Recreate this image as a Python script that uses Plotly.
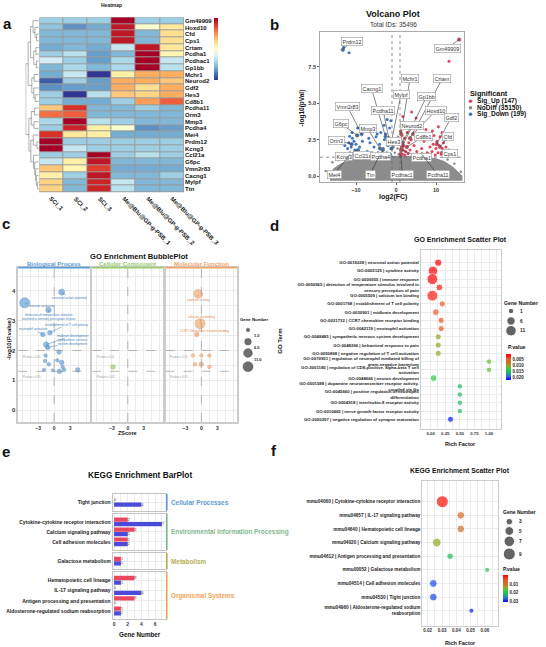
import plotly.graph_objects as go
import math

W, H = 546, 647
FONT = "Liberation Sans, Arial, Helvetica, sans-serif"

# ======================= DATA =======================
# ---- a. heatmap ----
hm_genes = ["Gm49909", "Hoxd10", "Cfd", "Cps1", "Crtam", "Pcdha1", "Pcdhac1", "Gp1bb",
            "Mchr1", "Neurod2", "Gdf2", "Hes3", "Cd8b1", "Pcdha11", "Orm3", "Mmp3",
            "Pcdha4", "Mei4", "Prdm12", "Kcng3", "Ccl21a", "G6pc", "Vmn2r83", "Cacng1",
            "Mylpf", "Ttn"]
hm_samples = ["SCI_1", "SCI_2", "SCI_3", "Me@Blu@GP-g-PSB_1", "Me@Blu@GP-g-PSB_2",
              "Me@Blu@GP-g-PSB_3"]
hm_values = [
    [-0.9, -0.9, -0.9, 2.0, -0.9, -0.9],
    [-1.0, -1.4, -1.2, 1.8, -0.1, 0.3],
    [-1.1, -1.1, -1.1, 1.8, -1.1, 0.4],
    [-1.1, -1.1, -1.1, 1.8, -1.1, 0.4],
    [-1.2, -1.1, -1.2, -0.6, 1.8, 0.3],
    [-0.9, -0.7, -1.3, -1.1, 2.0, 0.1],
    [-0.5, -0.9, -1.3, -0.8, 2.0, -0.6],
    [-1.1, -0.8, -1.1, -0.8, 2.0, -0.7],
    [-1.2, -0.6, -2.0, 0.2, 0.8, 0.8],
    [-1.75, -0.9, -1.3, 0.8, 0.8, 0.6],
    [-1.4, -1.3, -1.3, 0.8, 0.4, 0.8],
    [-0.9, -2.0, -0.7, 0.6, 0.5, 0.8],
    [-0.9, -1.2, -1.2, -0.9, 0.9, 1.3],
    [0.6, 1.6, -1.1, -1.1, -0.9, -1.1],
    [1.2, 1.3, -1.1, -1.1, -1.1, -1.1],
    [-0.8, 2.0, -0.7, -0.9, -1.1, -1.1],
    [-0.9, 1.7, 0.2, -0.1, -1.4, -1.3],
    [1.6, 0.3, 0.2, -1.2, -1.2, -1.2],
    [2.0, -0.9, -0.9, -0.9, -0.9, -0.9],
    [2.0, -0.6, -0.9, -0.9, -0.9, -0.9],
    [-0.9, -0.9, 2.0, -0.9, -0.7, -0.9],
    [-0.6, 0.2, 1.8, -1.1, -1.1, -1.1],
    [0.6, 0.1, 1.5, -1.2, -1.2, -1.2],
    [0.2, -0.9, 1.8, -1.1, -1.1, -0.9],
    [0.5, -1.1, 1.7, -0.6, -1.1, -1.1],
    [0.5, -1.1, 1.7, -0.7, -1.1, -1.1],
]
# row dendrogram: (left, right, merge height); leaves are row indices
hm_tree = (
    (((0, (1, (2, 3, 0.9), 1.6), 2.4), ((4, 5, 1.2), (6, 7, 1.0), 2.1), 3.4),
     ((8, 9, 1.9), (10, (11, 12, 1.5), 2.1), 2.9), 4.4),
    (((13, 14, 1.8), (15, 16, 2.0), 3.1),
     ((17, (18, 19, 0.8), 2.3), (20, (21, (22, (23, (24, 25, 0.6), 1.0), 1.3), 1.7), 2.2), 3.3), 4.1),
    5.4)

# ---- b. volcano ----
volc_groups = ["Sig_Up", "NoDiff", "Sig_Down"]
volc_group_counts = [147, 35150, 199]
volc_fc_cut = 1.0
volc_p_cut = 0.05
volc_up_fc = [1.1, 1.2, 1.3, 1.4, 1.2, 1.5, 1.1, 1.6, 1.8, 2.0, 2.2, 2.4, 2.1, 2.7, 3.0, 3.2, 2.8, 3.5,
              3.8, 4.2, 4.5, 1.3, 2.3, 3.9, 1.7, 5.2, 5.6, 6.0, 6.4, 7.0, 7.5, 5.0, 7.8, 8.2, 8.5, 8.8,
              9.0, 9.3, 9.5, 9.8, 10.0, 10.2, 10.5, 10.8, 11.0, 11.3, 11.6, 11.9, 12.2, 12.5, 12.8,
              9.1, 10.6, 11.5, 13.2, 13.25]
volc_up_lp = [1.4, 1.6, 1.9, 2.2, 2.5, 2.8, 3.1, 1.5, 1.8, 2.1, 1.45, 1.7, 2.6, 2.0, 1.55, 2.3, 3.0, 1.8,
              2.5, 1.5, 2.1, 3.6, 3.4, 4.4, 4.1, 1.7, 2.6, 3.3, 1.9, 2.4, 3.2, 4.0, 1.6, 1.5, 2.0, 2.5,
              1.7, 2.2, 2.8, 1.45, 1.9, 2.4, 1.6, 2.1, 2.7, 1.5, 1.9, 2.3, 1.6, 2.0, 1.45,
              3.1, 3.4, 3.0, 1.8, 7.9]
volc_down_fc = [-12.4, -12.1, -11.8, -11.5, -11.2, -10.9, -10.6, -10.3, -10.0, -9.7, -9.4, -9.1, -11.0,
                -9.6, -12.8, -8.7, -8.4, -10.5, -11.6, -9.9, -7.2, -6.5, -6.0, -5.5, -5.0, -4.5, -4.1,
                -3.8, -3.5, -3.2, -2.9, -2.6, -2.3, -2.0, -1.8, -1.6, -1.4, -1.2, -1.1, -4.7, -6.8,
                -3.0, -2.2, -5.8, -1.3, -13.1, -11.75]
volc_down_lp = [1.5, 1.9, 2.3, 1.6, 2.0, 2.6, 1.45, 1.8, 2.2, 2.8, 1.6, 2.0, 3.0, 3.3, 2.1, 1.5, 2.4,
                2.4, 2.75, 1.6, 1.7, 2.3, 1.5, 2.0, 2.7, 1.6, 2.2, 3.0, 1.45, 1.9, 2.5, 2.9, 1.6, 2.1,
                2.6, 3.3, 1.5, 1.9, 2.3, 2.9, 2.6, 3.5, 3.9, 3.2, 3.8, 8.85, 8.47]
# outline of the dense NoDiff cloud and its stray points
volc_cloud_fc = [-16.5, -15.5, -14, -12, -10, -8, -6, -4, -2, 0, 2, 4, 6, 8, 10, 12, 14, 15.5, 16.3,
                 16.3, -16.5]
volc_cloud_lp = [0.0, 0.45, 0.75, 1.0, 1.15, 1.22, 1.27, 1.3, 1.32, 1.35, 1.32, 1.3, 1.27, 1.22, 1.15,
                 0.95, 0.6, 0.25, 0.0, -0.22, -0.22]
volc_nodiff_fc = [-17.6, -15.9, -14.4, -13.2, 12.9, 14.6, 16.2, -0.3, 0.4, 0.2, -0.6, 0.7, 0.5, -0.4]
volc_nodiff_lp = [0.35, 0.95, 1.1, 1.2, 1.15, 0.85, 0.3, 1.6, 1.9, 2.3, 2.0, 1.5, 2.7, 2.4]
volc_lab_gene = ["Prdm12", "Gm49909", "Mchr1", "Crtam", "Cacng1", "Mylpf", "Gp1bb", "Vmn2r83",
                 "Pcdha11", "Hoxd10", "Neurod2", "Gdf2", "G6pc", "Mmp3", "Cd8b1", "Cfd", "Orm3",
                 "Hes3", "Kcng3", "Ccl21a", "Pcdha4", "Pcdha1", "Cps1", "Mei4", "Ttn", "Pcdhac1",
                 "Pcdha11"]
volc_lab_fc = [-13.3, 15.8, 1.3, 3.5, -2.6, -1.2, 1.5, -8.6, -1.8, 4.3, 1.6, 10.2, -9.7, -4.0, 2.7,
               11.0, -11.1, -1.1, -9.5, -7.0, -3.3, 1.3, 11.5, -11.5, -4.2, 1.2, 6.5]
volc_lab_lp = [8.68, 9.38, 2.9, 2.6, 2.7, 2.3, 2.0, 2.9, 2.6, 2.9, 2.3, 2.2, 2.8, 1.9, 2.0, 2.0, 2.2,
               1.9, 1.8, 1.6, 1.8, 1.8, 1.6, 1.5, 1.4, 1.5, 1.5]
volc_lab_text_fc = [-11.1, 12.75, 3.5, 11.6, -6.1, 1.25, 7.7, -12.1, -3.2, 9.9, 3.9, 13.75, -13.75,
                    -7.1, 6.8, 13.1, -14.8, -0.4, -12.9, -8.2, -4.0, 6.25, 13.5, -15.5, -6.5, 1.6, 10.4]
volc_lab_text_lp = [9.25, 8.8, 6.7, 6.7, 6.0, 5.6, 5.5, 4.75, 4.5, 4.5, 3.5, 4.0, 3.6, 3.27, 2.7, 2.75,
                    2.47, 2.4, 1.37, 1.45, 1.35, 1.3, 1.55, 0.1, 0.1, 0.1, 0.1]

# ---- c. GO bubble ----
go_c_categories = ["Biological Process", "Cellular Component", "Molecular Function"]
go_c_plines = [0.01, 0.05]
go_bp_z = [1.4, -5.5, -1.05, -0.8, -2.1, -1.5, -1.2, 0.9, -1.6, -1.7, -1.0, 0.6, 1.4, 1.6, -1.9, -0.2,
           1.0, 1.9, 4.4]
go_bp_lp = [3.96, 3.6, 3.36, 2.6, 2.54, 2.2, 2.1, 1.95, 1.83, 1.65, 1.54, 1.67, 1.6, 1.45, 1.35, 1.33,
            1.3, 1.35, 1.35]
go_bp_n = [4, 12, 3, 2, 2, 3, 2, 2, 1, 1, 1, 1, 2, 1, 1, 1, 2, 1, 2]
go_bp_labels = ["neuronal action potential", "immune response",
                "detection of temperature stimulus<br>involved in sensory perception of pain",
                "establishment of T cell polarity", "neutrophil activation", "midbrain development",
                "sympathetic nervous<br>system development"]
go_bp_lab_z = [2.8, -2.3, -0.9, 2.3, -3.9, 3.35, 3.6]
go_bp_lab_lp = [3.77, 3.5, 3.14, 2.87, 2.72, 2.5, 2.28]
go_cc_z = [-2.8]
go_cc_lp = [1.45]
go_cc_n = [2]
go_mf_z = [-0.6, -0.25, -0.9, -1.6, 0.0, 1.5, -1.2, 0.0, 1.5]
go_mf_lp = [3.9, 2.9, 2.54, 1.83, 1.83, 1.83, 1.54, 1.54, 1.45]
go_mf_n = [9, 12, 2, 1, 1, 1, 1, 2, 1]
go_mf_labels = ["cytokine activity", "calcium ion binding", "CCR7 chemokine receptor binding"]
go_mf_lab_z = [-0.5, 0.0, 0.68]
go_mf_lab_lp = [3.7, 3.13, 2.66]
go_c_legend_n = [1, 5, 9, 12]
go_c_legend_text = ["1.0", "6.0", "11.0"]

# ---- d. GO scatter ----
go_d_terms = [
    "GO:0019228 | neuronal action potential",
    "GO:0005125 | cytokine activity",
    "GO:0006955 | immune response",
    "GO:0050965 | detection of temperature stimulus involved in<br>sensory perception of pain",
    "GO:0005509 | calcium ion binding",
    "GO:0001768 | establishment of T cell polarity",
    "GO:0030901 | midbrain development",
    "GO:0031732 | CCR7 chemokine receptor binding",
    "GO:0042119 | neutrophil activation",
    "GO:0048485 | sympathetic nervous system development",
    "GO:0048266 | behavioral response to pain",
    "GO:0050868 | negative regulation of T cell activation",
    "GO:0070951 | regulation of neutrophil mediated killing of<br>gram-negative bacterium",
    "GO:2001185 | regulation of CD8-positive, alpha-beta T cell<br>activation",
    "GO:0048666 | neuron development",
    "GO:0001588 | dopamine neurotransmitter receptor activity,<br>coupled via Gs",
    "GO:0045660 | positive regulation of neutrophil<br>differentiation",
    "GO:0004918 | interleukin-8 receptor activity",
    "GO:0010465 | nerve growth factor receptor activity",
    "GO:2000297 | negative regulation of synapse maturation",
]
go_d_rich = [0.13, 0.04, 0.03, 0.15, 0.03, 0.2, 0.09, 0.18, 0.18, 0.13, 0.13, 0.13, 1.0, 1.0, 0.05,
             0.5, 0.5, 0.5, 0.5, 0.34]
go_d_count = [4, 9, 12, 3, 12, 2, 3, 2, 2, 2, 2, 2, 1, 1, 3, 1, 1, 1, 1, 2]
go_d_p = [0.0006, 0.0007, 0.0008, 0.0022, 0.002, 0.0045, 0.005, 0.0045, 0.0045, 0.0105, 0.0105, 0.0105,
          0.012, 0.012, 0.0135, 0.0155, 0.0155, 0.0155, 0.0155, 0.0215]
go_d_legend_n = [1, 6, 11]
go_d_p_ticks = [0.005, 0.010, 0.015, 0.020]

# ---- e. KEGG bar ----
kegg_classes = ["Cellular Processes", "Environmental Information Processing", "Metabolism",
                "Organismal Systems"]
kegg_class_terms = [
    ["Tight junction"],
    ["Cytokine-cytokine receptor interaction", "Calcium signaling pathway", "Cell adhesion molecules"],
    ["Galactose metabolism"],
    ["Hematopoietic cell lineage", "IL-17 signaling pathway", "Antigen processing and presentation",
     "Aldosterone-regulated sodium reabsorption"],
]
kegg_up = [[0], [2, 3, 2], [1], [3, 0, 3, 1]]
kegg_down = [[4], [7, 2, 2], [1], [1, 4, 0, 1]]

# ---- f. KEGG scatter ----
kegg_f_terms = [
    "mmu04060 | Cytokine-cytokine receptor interaction",
    "mmu04657 | IL-17 signaling pathway",
    "mmu04640 | Hematopoietic cell lineage",
    "mmu04020 | Calcium signaling pathway",
    "mmu04612 | Antigen processing and presentation",
    "mmu00052 | Galactose metabolism",
    "mmu04514 | Cell adhesion molecules",
    "mmu04530 | Tight junction",
    "mmu04960 | Aldosterone-regulated sodium<br>reabsorption",
]
kegg_f_rich = [0.0302, 0.0431, 0.0431, 0.0263, 0.0356, 0.0615, 0.0239, 0.0239, 0.0505]
kegg_f_count = [9, 4, 4, 5, 3, 2, 4, 4, 2]
kegg_f_p = [0.001, 0.0085, 0.0085, 0.014, 0.021, 0.021, 0.0275, 0.0275, 0.029]
kegg_f_legend_n = [3, 5, 7, 9]
kegg_f_p_ticks = [0.01, 0.02, 0.03]

# ======================= STYLE =======================
HM_SCALE = ['#313695', '#4575b4', '#74add1', '#abd9e9', '#e0f3f8', '#ffffbf', '#fee090', '#fdae61',
            '#f46d43', '#d73027', '#a50026']
HM_SCALE = [[i / 10, c] for i, c in enumerate(HM_SCALE)]
P_SCALE = [[0, '#FF0000'], [0.1, '#F52A14'], [0.2, '#E2602A'], [0.35, '#C0781E'], [0.47, '#8AAE2A'],
           [0.55, '#4CC33A'], [0.62, '#22CC44'], [0.72, '#28B070'], [0.86, '#2F6FD6'], [1, '#0000FF']]
# colour bar shows small p on top: plot -p with the scale flipped
P_SCALE_NEG = [[1 - s, c] for s, c in reversed(P_SCALE)]
C_UP, C_DOWN, C_NO = '#E2435A', '#3D76C0', '#8c8c8c'
CAT_COL = ['#5B9BD5', '#9BC96E', '#F4A46A']
CAT_LINE = ['#3F7EBF', '#79AE4A', '#E0894A']
KEGG_COL = ['#5B9BD5', '#7FB88E', '#B5AE55', '#F2A45C']
BAR_UP, BAR_DOWN = '#E8475F', '#4B4BDB'
GRID = '#ebebeb'


def size_c(n): return math.sqrt(4 + 8 * n)
def size_d(n): return math.sqrt(22.25 + 8 * n)
def size_f(n): return math.sqrt(17 * n - 8)


def PX(x): return x / W
def PY(y): return 1 - y / H
def XD(a, b): return [a / W, b / W]
def YD(top, bottom): return [1 - bottom / H, 1 - top / H]


def tf(size, color='#333', bold=True):
    return dict(family=FONT, size=size, color=color, weight='bold' if bold else 'normal')


def grid_ticks(start, stop, step, label_every, fmt):
    """tick positions every `step` (grid lines); labels only on every `label_every`-th one"""
    vals, txt = [], []
    n = int(round((stop - start) / step))
    for j in range(n + 1):
        v = start + j * step
        vals.append(v)
        txt.append(fmt(v) if j % label_every == 0 else '')
    return vals, txt


traces, shapes, ann = [], [], []
axes = {}


def set_axes(i, xdom, ydom, xkw, ykw):
    s = '' if i == 1 else str(i)
    axes['xaxis' + s] = dict(domain=xdom, anchor='y' + s, fixedrange=True, **xkw)
    axes['yaxis' + s] = dict(domain=ydom, anchor='x' + s, fixedrange=True, **ykw)


def A(x, y, text, size, color='#222', bold=False, xanchor='center', yanchor='middle', angle=0, **kw):
    d = dict(x=PX(x), y=PY(y), xref='paper', yref='paper', text=text, showarrow=False,
             font=tf(size, color, bold), xanchor=xanchor, yanchor=yanchor, textangle=angle,
             borderpad=0)
    d.update(kw)
    ann.append(d)


def framed(line='#c8c8c8', lw=1.0):
    return dict(showline=True, mirror=True, linecolor=line, linewidth=lw, zeroline=False)


def minus(v, dec=0):
    s = ('%.' + str(dec) + 'f') % v
    return s.replace('-', '\u2212')


# panel letters
for lx, ly, lt in [(7, 24, 'a'), (274, 25, 'b'), (6, 223, 'c'), (274, 225, 'd'), (6, 452, 'e'),
                   (274, 450, 'f')]:
    A(lx, ly, lt, 15, '#111', True)

# ======================= a. HEATMAP =======================
traces.append(go.Heatmap(
    z=hm_values, x=hm_samples, y=hm_genes, xaxis='x', yaxis='y', colorscale=HM_SCALE, zmin=-2,
    zmax=2, xgap=1, ygap=1, hoverinfo='skip',
    colorbar=dict(x=PX(214), xanchor='left', y=PY(18), yanchor='top', lenmode='pixels', len=62,
                  thicknessmode='pixels', thickness=3.5, outlinewidth=0, showticklabels=False,
                  ticks='', xpad=0, ypad=0)))
set_axes(1, XD(39.3, 184), YD(17.3, 192.3),
         dict(range=[-0.5, len(hm_samples) - 0.5], showticklabels=False, showgrid=False,
              zeroline=False, ticks=''),
         dict(side='right', range=[len(hm_genes) - 0.5, -0.5], tickmode='array', tickvals=hm_genes,
              ticktext=hm_genes, showgrid=False, zeroline=False, ticks='', tickfont=tf(6, '#111')))
shapes.append(dict(type='rect', xref='paper', yref='paper', x0=PX(39.3), x1=PX(184), y0=PY(192.3),
                   y1=PY(17.3), fillcolor='#9a9a9a', line=dict(width=0), layer='below'))

dx, dy = [], []


def walk(node):
    if isinstance(node, int):
        return float(node), 0.0
    left, right, h = node
    y1, h1 = walk(left)
    y2, h2 = walk(right)
    dx.extend([h1, h, None, h2, h, None, h, h, None])
    dy.extend([y1, y1, None, y2, y2, None, y1, y2, None])
    return (y1 + y2) / 2, h


_, hm_root_h = walk(hm_tree)
traces.append(go.Scatter(x=dx, y=dy, mode='lines', line=dict(color='#777', width=0.6),
                         xaxis='x2', yaxis='y2', hoverinfo='skip'))
set_axes(2, XD(25.5, 38.8), YD(17.3, 192.3),
         dict(visible=False, range=[hm_root_h * 1.02, 0]),
         dict(visible=False, range=[len(hm_genes) - 0.5, -0.5]))
for s in hm_samples:
    ann.append(dict(x=s, xref='x', y=PY(194), yref='paper', text=s, showarrow=False, textangle=45,
                    xanchor='left', yanchor='top', xshift=-4, font=tf(6, '#111'), borderpad=0))
A(111, 4.5, 'Heatmap', 5, '#222', True)

# ======================= b. VOLCANO =======================
traces.append(go.Scatter(x=volc_cloud_fc, y=volc_cloud_lp, mode='lines', fill='toself',
                         fillcolor=C_NO, line=dict(color=C_NO, width=2.5), xaxis='x3', yaxis='y3',
                         hoverinfo='skip'))
traces.append(go.Scatter(x=volc_nodiff_fc, y=volc_nodiff_lp, mode='markers',
                         marker=dict(color=C_NO, size=2.5), xaxis='x3', yaxis='y3'))
traces.append(go.Scatter(x=volc_down_fc, y=volc_down_lp, mode='markers',
                         marker=dict(color=C_DOWN, size=3), xaxis='x3', yaxis='y3'))
traces.append(go.Scatter(x=volc_up_fc, y=volc_up_lp, mode='markers',
                         marker=dict(color=C_UP, size=3), xaxis='x3', yaxis='y3'))
traces.append(go.Scatter(x=volc_lab_fc, y=volc_lab_lp, mode='markers',
                         marker=dict(color=[C_UP if v > 0 else C_DOWN for v in volc_lab_fc], size=3.5,
                                     line=dict(color='#666', width=0.6)),
                         xaxis='x3', yaxis='y3'))
set_axes(3, XD(320, 464), YD(32, 182),
         dict(range=[-19, 17], tickvals=[-10, 0, 10], ticktext=[minus(v) for v in [-10, 0, 10]],
              ticks='outside', ticklen=2, tickwidth=0.6,
              tickcolor='#555', tickfont=tf(5.5), showgrid=False, **framed('#aaaaaa', 0.8)),
         dict(range=[-0.4, 9.9], tickvals=[0, 2.5, 5, 7.5], ticktext=['0.0', '2.5', '5.0', '7.5'],
              ticks='outside', ticklen=2, tickwidth=0.6, tickcolor='#555', tickfont=tf(5.5),
              showgrid=False, **framed('#aaaaaa', 0.8)))
for v in (-volc_fc_cut, volc_fc_cut):
    shapes.append(dict(type='line', xref='x3', yref='y3 domain', x0=v, x1=v, y0=0, y1=1,
                       line=dict(color='#666', width=0.7, dash='dot')))
hp = -math.log10(volc_p_cut)
shapes.append(dict(type='line', xref='x3 domain', yref='y3', x0=0, x1=1, y0=hp, y1=hp,
                   line=dict(color='#666', width=0.7, dash='dot')))
for g, x, y, tx, ty in zip(volc_lab_gene, volc_lab_fc, volc_lab_lp, volc_lab_text_fc,
                           volc_lab_text_lp):
    ann.append(dict(x=x, y=y, xref='x3', yref='y3', ax=tx, ay=ty, axref='x3', ayref='y3', text=g,
                    showarrow=True, arrowhead=0, arrowwidth=0.6, arrowcolor='#333',
                    font=tf(5.4, '#333', False), bgcolor='white', bordercolor='#999',
                    borderwidth=0.6, borderpad=1))
A(393, 14, 'Volcano Plot', 9, '#111', True)
A(393, 25, 'Total IDs: %d' % sum(volc_group_counts), 6.5, '#333')
A(393, 197, 'log2(FC)', 7, '#111', True)
A(301.5, 108, '-log10(pVal)', 6.5, '#111', True, angle=-90)
A(469, 93.2, 'Significant', 7.3, '#111', True, xanchor='left')
leg_y = [101.3, 107.8, 114.3]
for gname, cnt, yy in zip(volc_groups, volc_group_counts, leg_y):
    A(475.5, yy, '%s (%d)' % (gname, cnt), 6.6, '#111', True, xanchor='left')
traces.append(go.Scatter(x=[470.5] * 3, y=leg_y, mode='markers',
                         marker=dict(color=[C_UP, C_NO, C_DOWN], size=3.5), xaxis='x13',
                         yaxis='y13'))

# ======================= c. GO BUBBLE =======================
c_xdoms = [(18.3, 90), (92.3, 163.3), (165.7, 237)]
c_data = [(go_bp_z, go_bp_lp, go_bp_n), (go_cc_z, go_cc_lp, go_cc_n), (go_mf_z, go_mf_lp, go_mf_n)]
cxv, cxt = grid_ticks(-6, 6, 1.5, 2, lambda v: minus(v) if abs(v) < 4 else '')
cyv, cyt = grid_ticks(0, 4.5, 0.5, 2, lambda v: '%d' % round(v))
for k in range(3):
    i = 4 + k
    xa, ya = 'x%d' % i, 'y%d' % i
    zz, lp, nn = c_data[k]
    traces.append(go.Scatter(x=zz, y=lp, mode='markers', xaxis=xa, yaxis=ya,
                             marker=dict(size=[size_c(n) for n in nn], color=CAT_COL[k],
                                         opacity=0.65, line=dict(color=CAT_LINE[k], width=0.7))))
    set_axes(i, XD(*c_xdoms[k]), YD(268, 422),
             dict(range=[-6.7, 6.7], tickvals=cxv, ticktext=cxt, ticks='', tickfont=tf(5),
                  showgrid=True, gridcolor=GRID, gridwidth=0.6, **framed('#cccccc', 1.5)),
             dict(range=[-0.4, 4.77], tickvals=cyv, ticktext=cyt, ticks='', tickfont=tf(6),
                  showticklabels=(k == 0), showgrid=True, gridcolor=GRID, gridwidth=0.6,
                  **framed('#cccccc', 1.5)))
    for p in go_c_plines:
        yv = -math.log10(p)
        shapes.append(dict(type='line', xref=xa + ' domain', yref=ya, x0=0, x1=1, y0=yv, y1=yv,
                           line=dict(color='#9a9a9a', width=0.7, dash='dash')))
        ann.append(dict(x=0.05, xref=xa + ' domain', y=yv, yref=ya, yshift=-3,
                        text='P.value = %g' % p, showarrow=False, xanchor='left', yanchor='top',
                        font=tf(2.8, '#999', False), borderpad=0))
    shapes.append(dict(type='line', xref=xa, yref=ya + ' domain', x0=0, x1=0, y0=0, y1=1,
                       line=dict(color='#9a9a9a', width=0.7, dash='dash')))
    x0, x1 = c_xdoms[k]
    shapes.append(dict(type='line', xref='paper', yref='paper', x0=PX(x0), x1=PX(x1), y0=PY(267.6),
                       y1=PY(267.6), line=dict(color=CAT_COL[k], width=1.8)))
    A((x0 + x1) / 2, 264.2, go_c_categories[k], 6.0, CAT_COL[k], True)

for lab, z, lp, tz, tl in zip(go_bp_labels, go_bp_z, go_bp_lp, go_bp_lab_z, go_bp_lab_lp):
    ann.append(dict(x=z, y=lp, xref='x4', yref='y4', ax=tz, ay=tl, axref='x4', ayref='y4', text=lab,
                    showarrow=True, arrowhead=0, arrowwidth=0.5, arrowcolor=CAT_LINE[0],
                    font=tf(3.2, CAT_LINE[0], False), borderpad=0))
for lab, z, lp, tz, tl in zip(go_mf_labels, go_mf_z, go_mf_lp, go_mf_lab_z, go_mf_lab_lp):
    ann.append(dict(x=z, y=lp, xref='x6', yref='y6', ax=tz, ay=tl, axref='x6', ayref='y6', text=lab,
                    showarrow=True, arrowhead=0, arrowwidth=0.5, arrowcolor=CAT_LINE[2],
                    font=tf(3.2, CAT_LINE[2], False), borderpad=0))
A(139, 256.3, 'GO Enrichment BubblePlot', 7.6, '#111', True)
A(9, 339, '-log10(P.value)', 6, '#111', True, angle=-90)
A(127.5, 433, 'ZScore', 5.5, '#111', True)
A(254.5, 319, 'Gene Number', 4.3, '#111', True)
traces.append(go.Scatter(x=[248] * 4, y=[330, 341.7, 353, 366.7], mode='markers', xaxis='x13',
                         yaxis='y13', marker=dict(size=[size_c(n) for n in go_c_legend_n],
                                                  color='#555', opacity=0.85,
                                                  line=dict(color='#333', width=0.5))))
for t, yy in zip(go_c_legend_text, [335.7, 347.3, 359]):
    A(252.5, yy, t, 4, '#222', True, xanchor='left')

# ======================= d. GO SCATTER =======================
traces.append(go.Scatter(
    x=go_d_rich, y=go_d_terms, mode='markers', xaxis='x7', yaxis='y7',
    marker=dict(size=[size_d(n) for n in go_d_count], color=[-p for p in go_d_p],
                colorscale=P_SCALE_NEG, cmin=-0.0222, cmax=-0.0006,
                colorbar=dict(x=PX(506), xanchor='left', y=PY(354), yanchor='top', lenmode='pixels',
                              len=26, thicknessmode='pixels', thickness=4.5, outlinewidth=0,
                              tickvals=[-v for v in go_d_p_ticks],
                              ticktext=['%.3f' % v for v in go_d_p_ticks],
                              ticks='', tickfont=tf(4.5, '#222'), xpad=0, ypad=0))))
dxv, dxt = grid_ticks(0, 1.125, 0.125, 2, lambda v: '%.2f' % v)
set_axes(7, XD(420.7, 500.7), YD(250, 429),
         dict(range=[-0.17, 1.2], tickvals=dxv, ticktext=dxt, ticks='', tickfont=tf(4.3),
              showgrid=True, gridcolor=GRID, gridwidth=0.6, **framed('#cccccc', 1)),
         dict(type='category', categoryorder='array', categoryarray=go_d_terms,
              range=[len(go_d_terms) - 1 + 1.18, -1.54], ticks='', tickfont=tf(4.3, '#222'),
              showgrid=True, gridcolor=GRID, gridwidth=0.6, **framed('#cccccc', 1)))
A(460.5, 239, 'GO Enrichment Scatter Plot', 7, '#111', True)
A(460.7, 444, 'Rich Factor', 5.5, '#111', True)
A(280, 341.7, 'GO Term', 6, '#111', True, angle=-90)
A(520.7, 302.7, 'Gene Number', 5.2, '#111', True)
d_leg_y = [311, 321, 330.7]
traces.append(go.Scatter(x=[511] * 3, y=d_leg_y, mode='markers', xaxis='x13', yaxis='y13',
                         marker=dict(size=[size_d(n) for n in go_d_legend_n], color='#222')))
for n, yy in zip(go_d_legend_n, d_leg_y):
    A(519, yy, str(n), 4.8, '#222', True, xanchor='left')
A(506.5, 346.7, 'P.value', 5.2, '#111', True, xanchor='left')

# ======================= e. KEGG BAR =======================
e_ydoms = [(494, 510.7), (513.7, 550), (553, 569.3), (572, 619.3)]
exv, ext = grid_ticks(0, 7, 1, 2, lambda v: '%d' % round(v))
for k in range(4):
    i = 8 + k
    xa, ya = 'x%d' % i, 'y%d' % i
    terms = kegg_class_terms[k]
    n = len(terms)
    traces.append(go.Bar(x=kegg_up[k], y=terms, orientation='h', xaxis=xa, yaxis=ya,
                         marker=dict(color=BAR_UP, line=dict(width=0)), width=0.42, offset=-0.44,
                         text=[str(v) for v in kegg_up[k]], textposition='outside',
                         textfont=tf(3.5, '#333', False), constraintext='none', cliponaxis=False))
    traces.append(go.Bar(x=kegg_down[k], y=terms, orientation='h', xaxis=xa, yaxis=ya,
                         marker=dict(color=BAR_DOWN, line=dict(width=0)), width=0.42, offset=0.02,
                         text=[str(v) for v in kegg_down[k]], textposition='outside',
                         textfont=tf(3.5, '#333', False), constraintext='none', cliponaxis=False))
    set_axes(i, XD(112.7, 165.7), YD(*e_ydoms[k]),
             dict(range=[-0.2, 7.55], tickvals=exv, ticktext=ext, ticks='', tickfont=tf(5),
                  showticklabels=(k == 3), showgrid=True, gridcolor=GRID, gridwidth=0.6,
                  **framed('#c4c4c4', 1.2)),
             dict(type='category', categoryorder='array', categoryarray=terms,
                  range=[n - 0.18, -0.82], ticks='', tickfont=tf(5, '#222'), showgrid=True,
                  gridcolor=GRID, gridwidth=0.6, **framed('#c4c4c4', 1.2)))
    t0, t1 = e_ydoms[k]
    shapes.append(dict(type='rect', xref='paper', yref='paper', x0=PX(165.9), x1=PX(167.6),
                       y0=PY(t1), y1=PY(t0), fillcolor=KEGG_COL[k], line=dict(width=0)))
    A(169.5, (t0 + t1) / 2, kegg_classes[k], 6.4, KEGG_COL[k], True, xanchor='left')
A(140, 475, 'KEGG Enrichment BarPlot', 8.3, '#111', True)
A(140, 634, 'Gene Number', 6.3, '#111', True)

# ======================= f. KEGG SCATTER =======================
traces.append(go.Scatter(
    x=kegg_f_rich, y=kegg_f_terms, mode='markers', xaxis='x12', yaxis='y12',
    marker=dict(size=[size_f(n) for n in kegg_f_count], color=[-p for p in kegg_f_p],
                colorscale=P_SCALE_NEG, cmin=-0.0302, cmax=0.0,
                colorbar=dict(x=PX(502.5), xanchor='left', y=PY(575), yanchor='top',
                              lenmode='pixels', len=27, thicknessmode='pixels', thickness=5,
                              outlinewidth=0, tickvals=[-v for v in kegg_f_p_ticks],
                              ticktext=['%.2f' % v for v in kegg_f_p_ticks], ticks='',
                              tickfont=tf(4.5, '#222'), xpad=0, ypad=0))))
fxv, fxt = grid_ticks(0.02, 0.065, 0.005, 2, lambda v: '%.2f' % v)
set_axes(12, XD(422.3, 497.7), YD(481, 625.7),
         dict(range=[0.0162, 0.0689], tickvals=fxv, ticktext=fxt, ticks='', tickfont=tf(4.5),
              showgrid=True, gridcolor=GRID, gridwidth=0.6, **framed('#cccccc', 1)),
         dict(type='category', categoryorder='array', categoryarray=kegg_f_terms,
              range=[len(kegg_f_terms) - 1 + 1.1, -1.52], ticks='', tickfont=tf(4.7, '#222'),
              showgrid=True, gridcolor=GRID, gridwidth=0.6, **framed('#cccccc', 1)))
A(460, 470.7, 'KEGG Enrichment Scatter Plot', 6.8, '#111', True)
A(460, 642.7, 'Rich Factor', 5.5, '#111', True)
A(519.5, 511.7, 'Gene Number', 5, '#111', True)
f_leg_y = [521.7, 531, 541.3, 554]
traces.append(go.Scatter(x=[509.3] * 4, y=f_leg_y, mode='markers', xaxis='x13', yaxis='y13',
                         marker=dict(size=[size_f(n) for n in kegg_f_legend_n], color='#222')))
for n, yy in zip(kegg_f_legend_n, f_leg_y):
    A(518, yy, str(n), 4.8, '#222', True, xanchor='left')
A(502.3, 569, 'P.value', 5, '#111', True, xanchor='left')

# ======================= overlay (legend glyphs, pixel coords) =======================
set_axes(13, [0, 1], [0, 1], dict(visible=False, range=[0, W]), dict(visible=False, range=[H, 0]))

for t in traces:
    t.update(showlegend=False)

fig = go.Figure(data=traces)
fig.update_layout(width=W, height=H, margin=dict(l=0, r=0, t=0, b=0), paper_bgcolor='white',
                  plot_bgcolor='rgba(255,255,255,0)', showlegend=False, hovermode=False,
                  annotations=ann, shapes=shapes, font=dict(family=FONT), **axes)
fig.write_html("out.html")
